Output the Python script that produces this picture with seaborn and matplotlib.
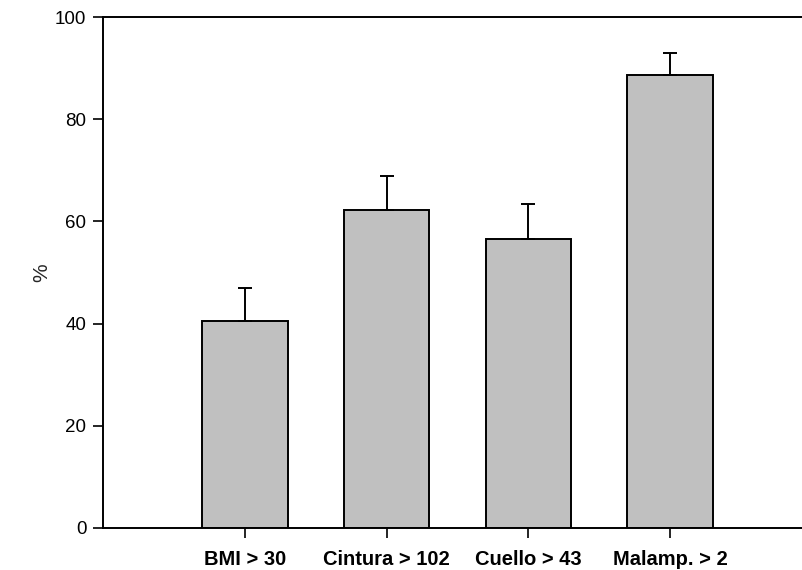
import matplotlib
matplotlib.use("Agg")
import matplotlib.pyplot as plt
import seaborn as sns
import pandas as pd

categories = ["BMI > 30", "Cintura > 102", "Cuello > 43", "Malamp. > 2"]
percent = [40.4, 62.2, 56.6, 88.7]
error_up = [6.5, 6.8, 6.9, 4.4]
y_ticks = [0, 20, 40, 60, 80, 100]

sns.set_theme(style="ticks")
plt.rcParams["font.family"] = ["Liberation Sans", "DejaVu Sans"]

df = pd.DataFrame({"categoria": categories, "pct": percent})

fig = plt.figure(figsize=(8.02, 5.70), dpi=100)
ax = fig.add_axes([103 / 802, 1 - 527.7 / 570, 1 - 103 / 802, (527.7 - 17.3) / 570])

sns.barplot(data=df, x="categoria", y="pct", order=categories,
            color="#c0c0c0", saturation=1, width=0.604,
            edgecolor="black", linewidth=1.4, errorbar=None, ax=ax)

ax.errorbar(range(len(categories)), percent,
            yerr=[[0] * len(categories), error_up],
            fmt="none", ecolor="black", elinewidth=1.4,
            capsize=5, capthick=1.4, zorder=1)

ax.set_xlim(-1.0, 3.93)
ax.set_ylim(0, 100)
ax.set_yticks(y_ticks)
ax.set_yticklabels([str(t) for t in y_ticks], fontsize=13.5)
ax.set_xticks(range(len(categories)))
ax.set_xticklabels(categories, fontsize=14.5, fontweight="bold")
ax.set_xlabel("")
ax.set_ylabel("%", fontsize=15, labelpad=3)

ax.tick_params(axis="both", direction="out", length=7, width=1.2, colors="black")
ax.tick_params(axis="y", pad=5)
ax.tick_params(axis="x", pad=9)

for side in ["left", "top", "bottom"]:
    ax.spines[side].set_visible(True)
    ax.spines[side].set_color("black")
    ax.spines[side].set_linewidth(1.4)
ax.spines["right"].set_visible(False)

fig.savefig("out.png", dpi=100, facecolor="white")
